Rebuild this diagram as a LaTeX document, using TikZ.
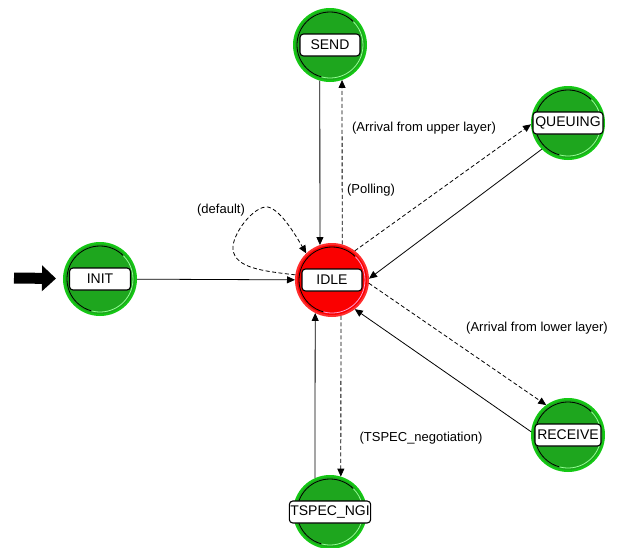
\documentclass[tikz,border=0pt]{standalone}
\usepackage{fontspec}
\setmainfont{Liberation Sans}
\usetikzlibrary{arrows.meta}

\definecolor{stategreen}{RGB}{30,166,30}
\definecolor{ringgreen}{RGB}{20,200,20}
\definecolor{glintgreen}{RGB}{150,255,150}
\definecolor{statered}{RGB}{250,0,0}
\definecolor{ringred}{RGB}{255,45,45}
\definecolor{glintred}{RGB}{255,160,215}

\tikzset{
  state/.style={circle, minimum size=72pt, inner sep=0pt, line width=2pt,
    fill=stategreen, draw=ringgreen},
  hotstate/.style={state, fill=statered, draw=ringred},
  tag/.style={draw=black, fill=white, line width=1.1pt, rounded corners=3.5pt,
    minimum height=22pt, inner sep=1pt, font=\fontsize{14}{16}\selectfont},
  edgelabel/.style={font=\fontsize{13}{15}\selectfont, inner sep=1pt},
  tip/.style={-{Triangle[length=8pt,width=7pt]}},
  solidedge/.style={tip, line width=0.8pt, black},
  dashededge/.style={tip, line width=0.8pt, black, dash pattern=on 4pt off 2.5pt},
}

\begin{document}
\begin{tikzpicture}[x=1pt,y=1pt]
  \useasboundingbox[fill=white] (0,0) rectangle (619,-547);

  % states
  \node[state]    (init)    at (100,-279) {};
  \node[hotstate] (idle)    at (332,-280) {};
  \node[state]    (send)    at (330,-45)  {};
  \node[state]    (queuing) at (568,-123) {};
  \node[state]    (receive) at (568,-435) {};
  \node[state]    (tspec)   at (330,-512) {};

  % shaded inner rim of every state
  \foreach \n/\c in {init/glintgreen, send/glintgreen, queuing/glintgreen,
                     receive/glintgreen, tspec/glintgreen, idle/glintred} {
    \draw[black, line width=0.8pt]
      ([shift={(45:33)}]\n.center) arc[start angle=45, end angle=255, radius=33];
    \draw[\c, line width=0.8pt]
      ([shift={(255:33)}]\n.center) arc[start angle=255, end angle=405, radius=33];
  }

  % state names
  \node[tag, minimum width=61pt] (init-tag)    at (init)    {INIT};
  \node[tag, minimum width=60pt] (idle-tag)    at (idle)    {IDLE};
  \node[tag, minimum width=60pt] (send-tag)    at (send)    {SEND};
  \node[tag, minimum width=70pt] (queuing-tag) at (queuing) {QUEUING};
  \node[tag, minimum width=66pt] (receive-tag) at (receive) {RECEIVE};
  \node[tag, minimum width=79pt] (tspec-tag)   at (tspec)   {TSPEC\_NGI};

  % initial transition
  \coordinate (start) at (14,-278);
  \draw[line width=11pt, -{Triangle[length=14pt,width=25pt]}, shorten >=7pt]
    (start) -- (init);

  % transitions
  \draw[solidedge]  (init) -- (idle);
  \draw[solidedge]  (send.254) -- (idle.109);
  \draw[dashededge] (idle.74) -- (send.289);
  \draw[dashededge] (idle.52) -- (queuing.182);
  \draw[solidedge]  (queuing.225) -- (idle.2);
  \draw[dashededge] (idle.-5) -- (receive.126);
  \draw[solidedge]  (receive.175) -- (idle.-52);
  \draw[solidedge]  (tspec.114) -- (idle.243);
  \draw[dashededge] (idle.284) -- (tspec.73);
  \draw[dashededge] (idle.172)
      .. controls (262,-271) and (236,-268) .. (233,-250)
      .. controls (231,-235) and (254,-205) .. (268,-207)
      .. controls (281,-210) and (296,-236) .. (idle.134);

  % transition conditions
  \node[edgelabel] (lbl-default) at (221,-210) {(default)};
  \node[edgelabel] (lbl-polling) at (371,-190) {(Polling)};
  \node[edgelabel] (lbl-upper)   at (424,-128) {(Arrival from upper layer)};
  \node[edgelabel] (lbl-lower)   at (537,-328) {(Arrival from lower layer)};
  \node[edgelabel] (lbl-tspec)   at (421,-438) {(TSPEC\_negotiation)};
\end{tikzpicture}
\end{document}
